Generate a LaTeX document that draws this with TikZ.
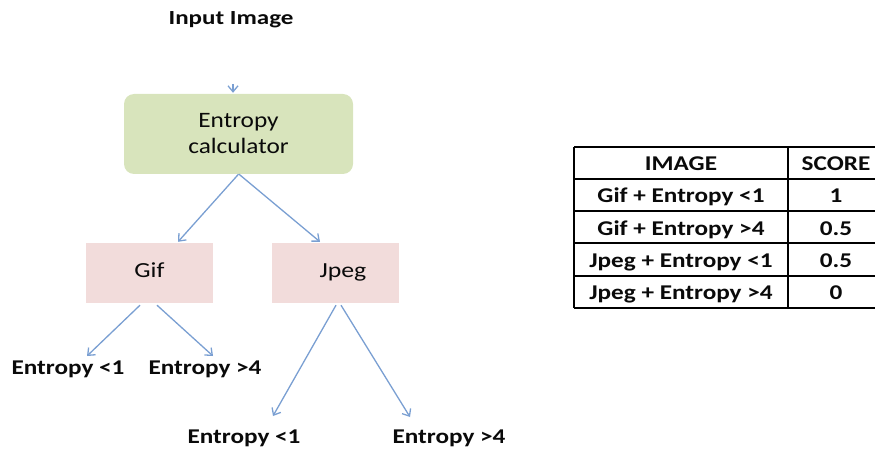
\documentclass[tikz,border=0pt]{standalone}
\usepackage{fontspec}
\setmainfont{Carlito}
\usepackage{graphicx}
\usetikzlibrary{arrows.meta}
\definecolor{arrowblue}{HTML}{7A9FD2}
\definecolor{boxgreen}{HTML}{D8E4BC}
\definecolor{boxpink}{HTML}{F2DCDB}
\definecolor{ink}{HTML}{0A0A0A}
\newcommand{\hs}[2]{\scalebox{#1}[1]{#2}}
\begin{document}
\begin{tikzpicture}[x=1pt,y=-1pt,
  conn/.style={draw=arrowblue, line width=1.3pt, -{Straight Barb[length=6pt,width=10pt]}},
  lbl/.style={font=\bfseries\fontsize{21}{24}\selectfont, text=ink, inner sep=0pt, anchor=base},
  cell/.style={font=\bfseries\fontsize{21}{24}\selectfont, text=ink, inner sep=0pt, anchor=base},
  greenbox/.style={fill=boxgreen, draw=none, rounded corners=10pt, minimum width=229pt, minimum height=80pt, align=center, font=\fontsize{22}{25}\selectfont, text=ink, inner sep=0pt},
  pinkbox/.style={fill=boxpink, draw=none, minimum width=127pt, minimum height=60pt, font=\fontsize{21.5}{24}\selectfont, text=ink, text height=14pt, text depth=5pt, inner sep=0pt},
  tline/.style={draw=black, line width=1.5pt}]
\useasboundingbox (0,0) rectangle (875,449);
% title
\node[lbl, font=\bfseries\fontsize{20}{24}\selectfont] (title) at (231,25) {\hs{1.25}{Input Image}};
% entropy calculator
\node[greenbox] (calc) at (238.5,134) {\hs{1.15}{Entropy}\\[1pt]\hs{1.15}{calculator}};
\coordinate (inarr) at (233,84);
\draw[conn] (inarr) -- ([xshift=-5.5pt,yshift=1pt]calc.north);
% type boxes
\node[pinkbox] (gif) at (149.5,273) {\hs{1.2}{Gif}};
\node[pinkbox] (jpeg) at (335.5,273) {\hspace*{15pt}\hs{1.2}{Jpeg}};
% leaf labels
\node[lbl] (g1) at (68,374) {\hs{1.2}{Entropy <1}};
\node[lbl] (g2) at (205,374) {\hs{1.2}{Entropy >4}};
\node[lbl] (j1) at (244,443) {\hs{1.2}{Entropy <1}};
\node[lbl] (j2) at (449,443) {\hs{1.2}{Entropy >4}};
\coordinate (tg1) at (87,356);
\coordinate (tg2) at (213,356);
\coordinate (tj1) at (273,416);
\coordinate (tj2) at (410,417);
% connectors
\draw[conn] (calc.south) -- ([xshift=28.5pt,yshift=1pt]gif.north);
\draw[conn] ([xshift=0.5pt]calc.south) -- ([xshift=-15.5pt,yshift=1pt]jpeg.north);
\draw[conn] ([xshift=-9.5pt,yshift=-2pt]gif.south) -- (tg1);
\draw[conn] ([xshift=7.5pt,yshift=-2pt]gif.south) -- (tg2);
\draw[conn] ([xshift=0.5pt,yshift=-2pt]jpeg.south) -- (tj1);
\draw[conn] ([xshift=5.5pt,yshift=-2pt]jpeg.south) -- (tj2);
% table
\draw[tline] (574,147) -- (875,147);
\draw[tline] (574,179) -- (875,179);
\draw[tline] (574,211) -- (875,211);
\draw[tline] (574,243) -- (875,243);
\draw[tline] (574,276) -- (875,276);
\draw[tline] (574,308) -- (875,308);
\draw[tline] (574,147) -- (574,308);
\draw[tline] (788,147) -- (788,308);
\node[cell] (h1) at (681,171) {\hs{1.2}{IMAGE}};
\node[cell] (h2) at (836,171) {\hs{1.2}{SCORE}};
\node[cell] (r1a) at (681,203) {\hs{1.2}{Gif + Entropy <1}};
\node[cell] (r1b) at (836,203) {\hs{1.2}{1}};
\node[cell] (r2a) at (681,235) {\hs{1.2}{Gif + Entropy >4}};
\node[cell] (r2b) at (836,235) {\hs{1.2}{0.5}};
\node[cell] (r3a) at (681,267) {\hs{1.2}{Jpeg + Entropy <1}};
\node[cell] (r3b) at (836,267) {\hs{1.2}{0.5}};
\node[cell] (r4a) at (681,299) {\hs{1.2}{Jpeg + Entropy >4}};
\node[cell] (r4b) at (836,299) {\hs{1.2}{0}};
\end{tikzpicture}
\end{document}
